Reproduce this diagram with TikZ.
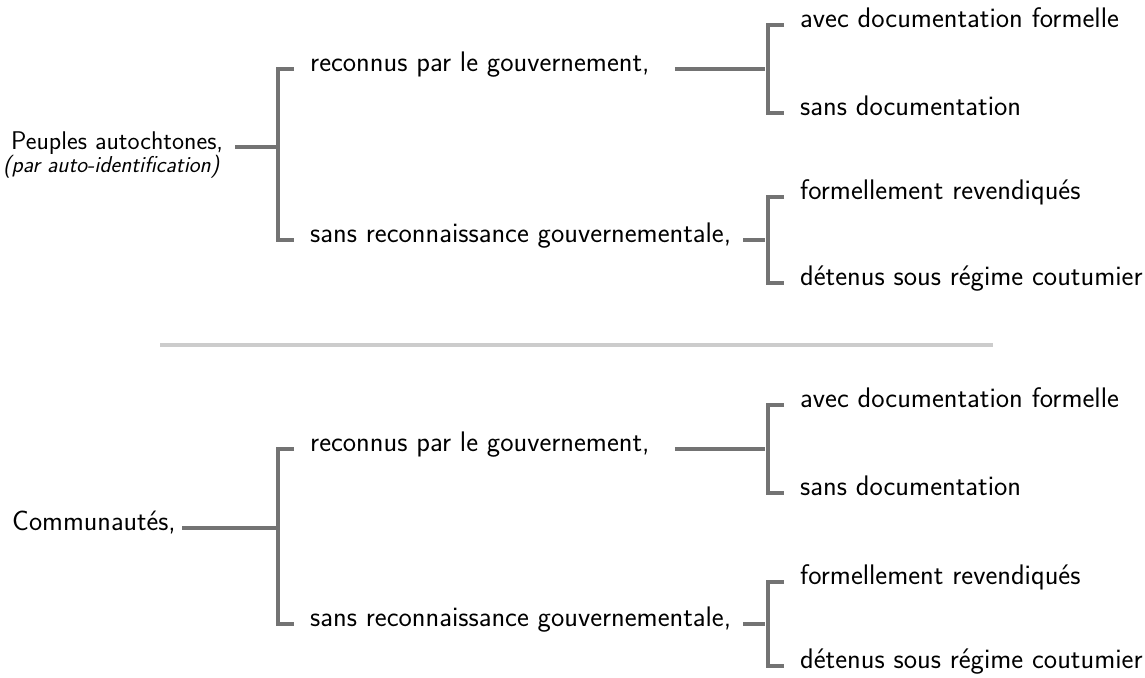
\documentclass[tikz,border=0pt]{standalone}
\usepackage{tikz}
\usetikzlibrary{calc}
\usepackage{amsmath}
\tikzset{
	branch/.style={draw=black!55, line width=3.2pt},
	sepline/.style={draw=black!20, line width=3.2pt},
	lbl/.style={anchor=west, inner sep=0pt, text height=1.5ex, text depth=0.5ex,
		font=\sffamily\fontsize{28.3}{33}\selectfont},
	rootlbl/.style={lbl, font=\sffamily\fontsize{25.6}{30}\selectfont},
	sublbl/.style={anchor=west, inner sep=0pt, text height=1.2ex, text depth=0.2ex,
		font=\sffamily\itshape\fontsize{23}{27}\selectfont}
}
\newcommand{\fork}[2] % upper node, lower node
{
	% bracket with two ticks
	\draw[branch] ([xshift=-16pt]#1.west) -- ++(-16,0) |- ([xshift=-16pt]#2.west);
}

\begin{document}
\begin{tikzpicture}[x=1pt, y=-1pt]
	\useasboundingbox (0,0) rectangle (1145,677);
	% upper tree
	\node[rootlbl] (pa) at (11,147) {Peuples autochtones,};
	\node[sublbl] (pasub) at (3,170) {(par auto-identification)};
	\node[lbl] (rg1) at (310,69) {reconnus par le gouvernement,};
	\node[lbl] (sr1) at (310,240) {sans reconnaissance gouvernementale,};
	\node[lbl] (adf1) at (800,25) {avec documentation formelle};
	\node[lbl] (sd1) at (800,113) {sans documentation};
	\node[lbl] (fr1) at (800,197) {formellement revendiqués};
	\node[lbl] (dr1) at (800,283) {détenus sous régime coutumier};
	\coordinate (j1) at (278,147);
	\coordinate (k1) at (765,69);
	\coordinate (k2) at (765,240);
	\draw[branch] ([xshift=12pt]pa.east) -- (j1);
	\fork{rg1}{sr1}
	\draw[branch] ([xshift=25pt]rg1.east) -- (k1);
	\fork{adf1}{sd1}
	\draw[branch] ([xshift=12pt]sr1.east) -- (k2);
	\fork{fr1}{dr1}
	
	% separator
	\draw[sepline] (160,345) -- (993,345);
	
	% lower tree
	\node[rootlbl, font=\sffamily\fontsize{28}{33}\selectfont] (cm) at (12,528) {Communautés,};
	\node[lbl] (rg2) at (310,449) {reconnus par le gouvernement,};
	\node[lbl] (sr2) at (310,624) {sans reconnaissance gouvernementale,};
	\node[lbl] (adf2) at (800,405) {avec documentation formelle};
	\node[lbl] (sd2) at (800,493) {sans documentation};
	\node[lbl] (fr2) at (800,582) {formellement revendiqués};
	\node[lbl] (dr2) at (800,666) {détenus sous régime coutumier};
	\coordinate (j2) at (278,528);
	\coordinate (k3) at (765,449);
	\coordinate (k4) at (765,624);
	\draw[branch] ([xshift=6pt]cm.east) -- (j2);
	\fork{rg2}{sr2}
	\draw[branch] ([xshift=25pt]rg2.east) -- (k3);
	\fork{adf2}{sd2}
	\draw[branch] ([xshift=12pt]sr2.east) -- (k4);
	\fork{fr2}{dr2}
\end{tikzpicture}
\end{document}
